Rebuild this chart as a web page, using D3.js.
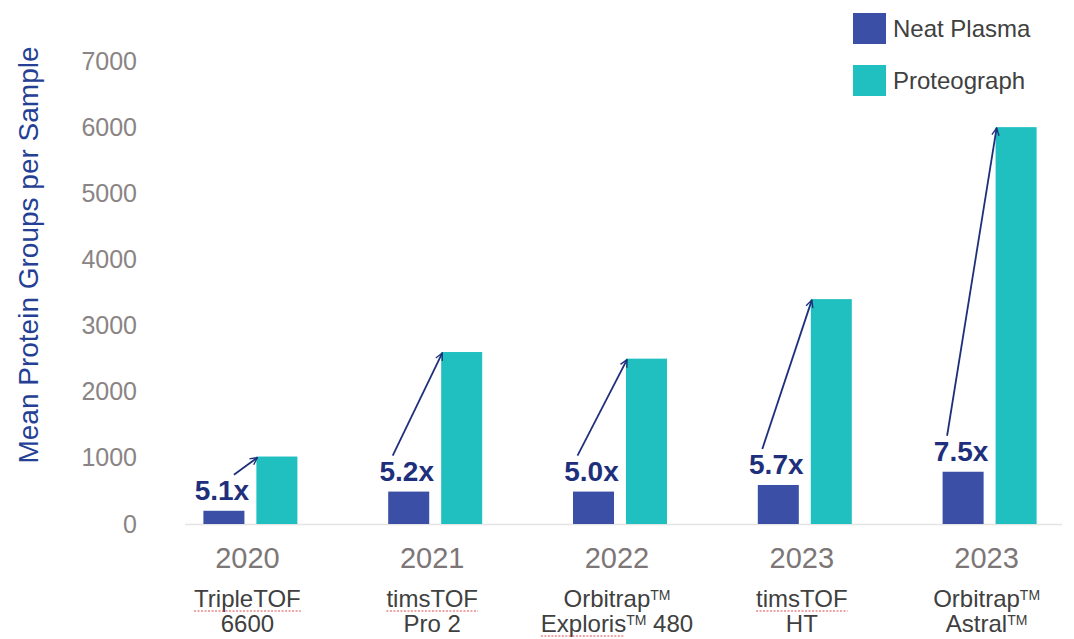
<!DOCTYPE html>
<html>
<head>
<meta charset="utf-8">
<script src="https://cdn.jsdelivr.net/npm/d3@7"></script>
<style>
  body { margin: 0; background: #fff; }
  svg { font-family: "Liberation Sans", Arial, sans-serif; display: block; }
  .tick-label { fill: #8a8484; font-size: 25px; }
  .year { fill: #7d7676; font-size: 29px; }
  .model { fill: #404040; font-size: 24px; }
  .fold { fill: #1e2f7c; font-size: 28px; font-weight: bold; }
  .legend-text { fill: #404040; font-size: 24px; }
</style>
</head>
<body>
<div id="chart"></div>
<script>
// data
const years = ['2020', '2021', '2022', '2023', '2023']
const models = [
    ['TripleTOF', '6600'],
    ['timsTOF', 'Pro 2'],
    ['Orbitrap{TM}', 'Exploris{TM} 480'],
    ['timsTOF', 'HT'],
    ['Orbitrap{TM}', 'Astral{TM}']
]
const neatPlasma = [200, 490, 490, 590, 790]
const proteograph = [1020, 2600, 2500, 3400, 6000]
const folds = ['5.1x', '5.2x', '5.0x', '5.7x', '7.5x']
const yTicks = [0, 1000, 2000, 3000, 4000, 5000, 6000, 7000]
const seriesNames = ['Neat Plasma', 'Proteograph']

const W = 1074, H = 639
const colors = {'Neat Plasma': '#3a4fa5', 'Proteograph': '#20bfc0'}

const svg = d3.select('#chart').append('svg')
    .attr('width', W)
    .attr('height', H)

svg.append('defs').append('marker')
    .attr('id', 'arrow')
    .attr('viewBox', '0 0 10 10')
    .attr('refX', 9)
    .attr('refY', 5)
    .attr('markerWidth', 9)
    .attr('markerHeight', 9)
    .attr('markerUnits', 'userSpaceOnUse')
    .attr('orient', 'auto')
  .append('path')
    .attr('d', 'M1,1 L9,5 L1,9')
    .attr('fill', 'none')
    .attr('stroke', '#1e2f7c')
    .attr('stroke-width', 1.5)

const x = d3.scaleBand()
    .domain(d3.range(years.length))
    .range([158, 1082])

const xs = d3.scaleBand()
    .domain(seriesNames)
    .range([-47, 47])
    .paddingInner(0.226)

const y = d3.scaleLinear()
    .domain([0, 7000])
    .range([524, 61])

const cx = i => x(i) + x.bandwidth() / 2

// baseline
svg.append('line')
    .attr('x1', 185).attr('x2', 1062)
    .attr('y1', y(0) + 0.5).attr('y2', y(0) + 0.5)
    .attr('stroke', '#e4e4e4')
    .attr('stroke-width', 1.5)

// y axis labels
const yAxis = svg.append('g')
    .attr('transform', 'translate(137,0)')
    .call(d3.axisLeft(y).tickValues(yTicks).tickSize(0).tickPadding(0).tickFormat(d3.format('d')))
yAxis.select('.domain').remove()
yAxis.selectAll('text')
    .attr('class', 'tick-label')
    .attr('font-family', null)
    .attr('font-size', null)
    .attr('fill', null)

svg.append('text')
    .attr('transform', 'translate(38,255) rotate(-90)')
    .attr('text-anchor', 'middle')
    .attr('fill', '#253f95')
    .style('font-size', '28px')
    .text('Mean Protein Groups per Sample')

// bars
const groups = svg.append('g').selectAll('g')
    .data(years.map((yr, i) => ({i, 'Neat Plasma': neatPlasma[i], 'Proteograph': proteograph[i]})))
    .join('g')
    .attr('transform', d => `translate(${cx(d.i)},0)`)

groups.selectAll('rect')
    .data(d => seriesNames.map(s => ({s, v: d[s]})))
    .join('rect')
    .attr('x', d => xs(d.s))
    .attr('width', xs.bandwidth())
    .attr('y', d => y(d.v))
    .attr('height', d => y(0) - y(d.v))
    .attr('fill', d => colors[d.s])

// fold-change labels and arrows
folds.forEach((f, i) => {
    const lx = cx(i) + xs('Neat Plasma') + xs.bandwidth() / 2 - 2
    const ly = y(neatPlasma[i]) - 11
    svg.append('text')
        .attr('class', 'fold')
        .attr('x', lx)
        .attr('y', ly)
        .attr('text-anchor', 'middle')
        .text(f)
    const sx = i === 0 ? lx + 12 : lx - 14
    svg.append('line')
        .attr('x1', sx)
        .attr('y1', ly - 25)
        .attr('x2', cx(i) + xs('Proteograph') + 1)
        .attr('y2', y(proteograph[i]) + 1)
        .attr('stroke', '#1e2f7c')
        .attr('stroke-width', 1.8)
        .attr('marker-end', 'url(#arrow)')
})

// x labels
years.forEach((yr, i) => {
    svg.append('text')
        .attr('class', 'year')
        .attr('x', cx(i) - 3)
        .attr('y', 568)
        .attr('text-anchor', 'middle')
        .text(yr)

    models[i].forEach((line, j) => {
        const t = svg.append('text')
            .attr('class', 'model')
            .attr('x', cx(i) - 3)
            .attr('y', 607 + j * 25)
            .attr('text-anchor', 'middle')
        let shift = 0
        line.split(/(\{TM\})/).forEach(part => {
            if (part === '{TM}') {
                t.append('tspan').attr('dy', -7).style('font-size', '14px').text('TM')
                shift = 7
            } else if (part) {
                t.append('tspan').attr('dy', shift || null).text(part)
                shift = 0
            }
        })
        // spell-check squiggles under the product names
        const word = line.match(/^(TripleTOF|timsTOF|Exploris)/)
        if (word) {
            const bb = t.node().getBBox()
            const w = word[0] === 'Exploris' ? bb.width * 0.55 : bb.width
            svg.append('line')
                .attr('x1', bb.x).attr('x2', bb.x + w)
                .attr('y1', 607 + j * 25 + 4).attr('y2', 607 + j * 25 + 4)
                .attr('stroke', '#e04a4a')
                .attr('stroke-width', 1.2)
                .attr('stroke-dasharray', '2,1.5')
        }
    })
})

// legend
const legend = svg.append('g').attr('transform', 'translate(853,13)')
seriesNames.forEach((s, i) => {
    legend.append('rect')
        .attr('x', 0).attr('y', i * 52)
        .attr('width', 33).attr('height', 31)
        .attr('fill', colors[s])
    legend.append('text')
        .attr('class', 'legend-text')
        .attr('x', 40).attr('y', i * 52 + 24)
        .text(s)
})
</script>
</body>
</html>
